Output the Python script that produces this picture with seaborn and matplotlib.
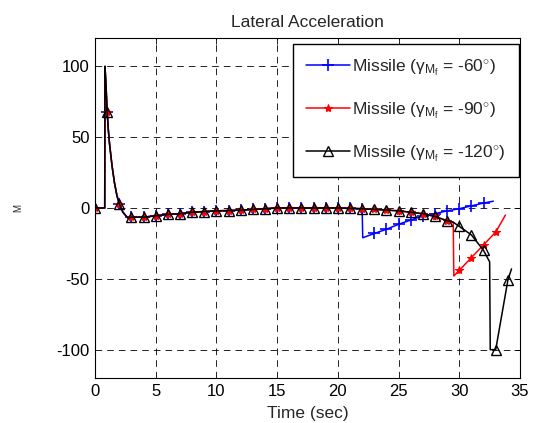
import numpy as np
import pandas as pd
import matplotlib
matplotlib.use("Agg")
import matplotlib.pyplot as plt
import seaborn as sns

# ---- data ----
common_t = [0, 0.5, 0.8, 0.82, 0.9, 1.0, 1.1, 1.2, 1.4, 1.6, 1.8, 2.0, 2.3, 2.7,
            3, 4, 5, 6, 7, 8, 9, 10, 11, 12, 13, 14, 15, 16, 17, 18, 19, 20, 21, 22]
common_a = [0, 0, 0, 100, 88, 68, 55, 45, 30, 18, 9, 3, -3, -7,
            -6.5, -6.5, -5.5, -4.5, -4, -3, -2.5, -2, -1.8, -1.5, -1, -0.5, 0, 0, 0, 0, 0, 0, -0.3, -0.5]

blue_t = [22.05, 23, 24, 25, 26, 27, 28, 29, 30, 31, 32, 32.8]
blue_a = [-21, -18, -15, -11.5, -8.5, -5.5, -4, -2, -0.5, 1.5, 3.5, 4.8]

shared_t = [23, 24, 25, 26, 27, 28, 29, 29.5]
shared_a = [-1, -1.5, -2, -3, -4, -6, -9, -10]

red_t = [29.55, 30, 31, 32, 33, 33.8]
red_a = [-48, -44, -35, -26, -17, -5]

black_t = [30, 31, 32, 32.5, 32.55, 33, 34, 34.3]
black_a = [-13, -19, -30, -38, -100, -100, -51, -43]

labels = [r"Missile ($\gamma_{M_f}$ = -60$^{\circ}$)",
          r"Missile ($\gamma_{M_f}$ = -90$^{\circ}$)",
          r"Missile ($\gamma_{M_f}$ = -120$^{\circ}$)"]
title = "Lateral Acceleration"
xlabel = "Time (sec)"
ylabel = "M"

series = [
    (common_t + blue_t, common_a + blue_a, (0, 0, 1), "+", dict(markersize=8, markeredgewidth=1.2)),
    (common_t + shared_t + red_t, common_a + shared_a + red_a, (1, 0, 0), "*",
     dict(markersize=6, markeredgewidth=0.8)),
    (common_t + shared_t + black_t, common_a + shared_a + black_a, (0, 0, 0), "^",
     dict(markersize=7, markeredgewidth=1.0, markerfacecolor="none")),
]

sns.set_style("white")
plt.rcParams["font.family"] = ["Liberation Sans", "DejaVu Sans"]
plt.rcParams["mathtext.fontset"] = "custom"
plt.rcParams["mathtext.rm"] = "Liberation Sans"
plt.rcParams["mathtext.it"] = "Liberation Sans"
plt.rcParams["axes.unicode_minus"] = False

fig = plt.figure(figsize=(5.34, 4.23), dpi=100)
ax = fig.add_axes([95 / 534, 1 - 378 / 423, (520 - 95) / 534, (378 - 38) / 423])

for (t, a, col, mk, kw), lab in zip(series, labels):
    t = np.asarray(t, float)
    a = np.asarray(a, float)
    idx = [i for i, v in enumerate(t) if abs(v - round(v)) < 1e-9 and not (i > 0 and t[i - 1] == v)]
    df = pd.DataFrame({"t": t, "a": a})
    sns.lineplot(data=df, x="t", y="a", ax=ax, color=col, sort=False, estimator=None,
                 marker=mk, markevery=idx, linewidth=1.1, markeredgecolor=col,
                 label=lab, **kw)

ax.set_xlim(0, 35)
ax.set_ylim(-120, 120)
ax.set_xticks(np.arange(0, 36, 5))
ax.set_yticks([-100, -50, 0, 50, 100])
ax.grid(True, color="k", linestyle=(0, (8, 6)), linewidth=0.6)
ax.tick_params(direction="in", top=True, right=True, labelsize=12, length=4, width=0.6,
               colors="k", pad=4)
for s in ax.spines.values():
    s.set_color("k")
    s.set_linewidth(0.8)
ax.set_title(title, fontsize=12.5, pad=8)
ax.set_xlabel(xlabel, fontsize=12.5, labelpad=5)
ax.set_ylabel(ylabel, fontsize=7, labelpad=24)

leg = ax.legend(loc="upper right", bbox_to_anchor=(0.998, 1 - 6 / 340), borderaxespad=0,
                fontsize=12.5, labelspacing=1.3, handlelength=2.5, handletextpad=0.15,
                fancybox=False, framealpha=1, edgecolor="k", borderpad=0.75)
leg.get_frame().set_linewidth(1.0)

fig.savefig("out.png", dpi=100)
